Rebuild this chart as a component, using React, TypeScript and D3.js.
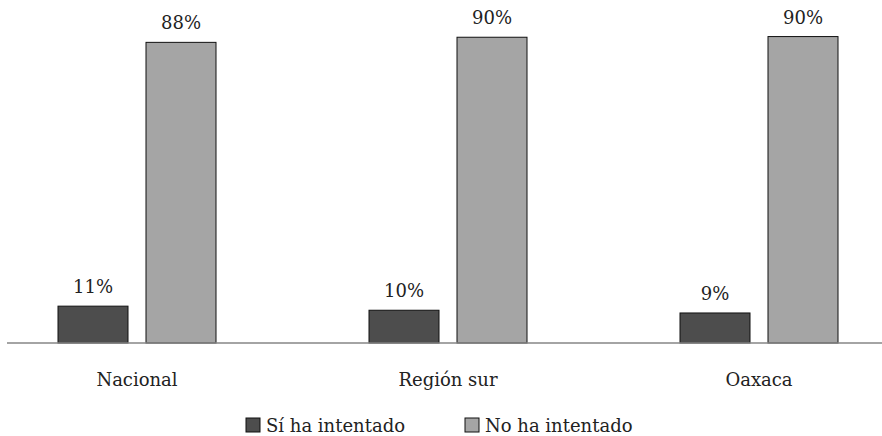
import React, { useEffect, useRef } from 'react';
import * as d3 from 'd3';

const categories = ['Nacional', 'Región sur', 'Oaxaca'];
const seriesNames = ['Sí ha intentado', 'No ha intentado'];
const siValues = [10.8, 9.6, 8.8];
const noValues = [88.1, 89.6, 89.8];
const seriesColors = ['#4d4d4d', '#a5a5a5'];

const width = 882;
const height = 436;
const font = '"DejaVu Serif", serif';

const App: React.FC = () => {
  const ref = useRef<SVGSVGElement | null>(null);

  useEffect(() => {
    if (!ref.current) return;
    const svg = d3.select(ref.current);
    svg.selectAll('*').remove();

    const baseline = 343;
    const rows = categories.map((c, i) => ({ cat: c, values: [siValues[i], noValues[i]] }));

    // category bands, centered where the reference puts the groups
    const x0 = d3.scaleBand<string>()
      .domain(categories)
      .range([-18.5, -18.5 + 311 * 3]);

    const x1 = d3.scaleBand<string>()
      .domain(seriesNames)
      .range([0, 158])
      .paddingInner(18 / 88)
      .paddingOuter(0);

    const y = d3.scaleLinear()
      .domain([0, 100])
      .range([baseline, baseline - 341.25]);

    const groups = svg.selectAll('.grp')
      .data(rows)
      .enter()
      .append('g')
      .attr('transform', d => `translate(${(x0(d.cat) || 0) + x0.bandwidth() / 2 - 79},0)`);

    groups.selectAll('rect')
      .data(d => d.values.map((v, j) => ({ v, s: seriesNames[j], j })))
      .enter()
      .append('rect')
      .attr('x', d => x1(d.s) || 0)
      .attr('y', d => y(d.v))
      .attr('width', x1.bandwidth())
      .attr('height', d => baseline - y(d.v))
      .attr('fill', d => seriesColors[d.j])
      .attr('stroke', '#111')
      .attr('stroke-width', 1);

    groups.selectAll('text')
      .data(d => d.values.map((v, j) => ({ v, s: seriesNames[j] })))
      .enter()
      .append('text')
      .attr('x', d => (x1(d.s) || 0) + x1.bandwidth() / 2)
      .attr('y', d => y(d.v) - 13)
      .attr('text-anchor', 'middle')
      .style('font-family', font)
      .style('font-size', '18px')
      .attr('fill', '#222')
      .text(d => `${Math.round(d.v)}%`);

    // baseline axis
    svg.append('line')
      .attr('x1', 7)
      .attr('x2', width)
      .attr('y1', baseline)
      .attr('y2', baseline)
      .attr('stroke', '#868686')
      .attr('stroke-width', 1.5);

    // category labels
    svg.selectAll('.cat')
      .data(categories)
      .enter()
      .append('text')
      .attr('x', d => (x0(d) || 0) + x0.bandwidth() / 2)
      .attr('y', 386)
      .attr('text-anchor', 'middle')
      .style('font-family', font)
      .style('font-size', '18px')
      .attr('fill', '#222')
      .text(d => d);

    // legend
    const legendX = [246, 465];
    const legend = svg.selectAll('.leg')
      .data(seriesNames)
      .enter()
      .append('g')
      .attr('transform', (_d, i) => `translate(${legendX[i]},418)`);

    legend.append('rect')
      .attr('width', 14)
      .attr('height', 14)
      .attr('fill', (_d, i) => seriesColors[i])
      .attr('stroke', '#111')
      .attr('stroke-width', 1);

    legend.append('text')
      .attr('x', 20)
      .attr('y', 14)
      .style('font-family', font)
      .style('font-size', '18px')
      .attr('fill', '#222')
      .text(d => d);
  }, []);

  return (
    <svg
      ref={ref}
      width={width}
      height={height}
      style={{ position: 'absolute', left: 0, top: 0, background: '#fff' }}
    />
  );
};

export default App;
